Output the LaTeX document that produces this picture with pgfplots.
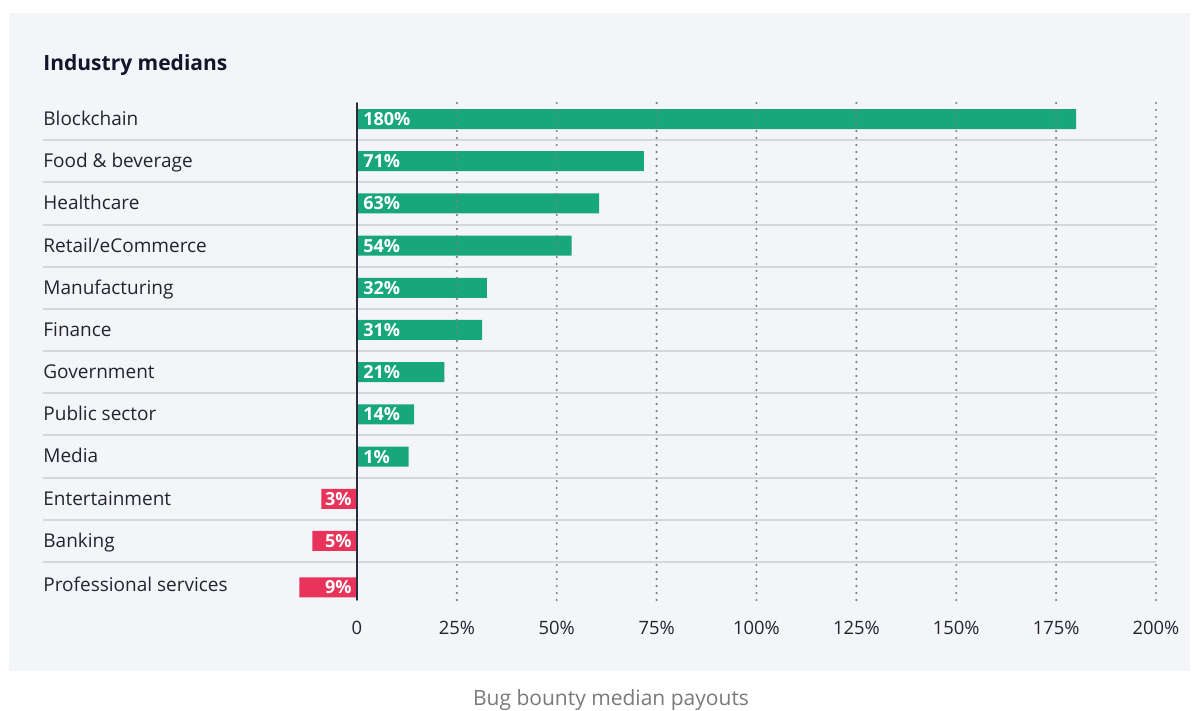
\documentclass[border=0pt]{standalone}
\usepackage{pgfplots}
\pgfplotsset{compat=1.18}
\usepackage{fontspec}
\setmainfont{Open Sans}
\definecolor{bg}{HTML}{F4F5F9}
\definecolor{barg}{HTML}{17A77A}
\definecolor{barr}{HTML}{E8335A}
\definecolor{sep}{HTML}{D6D7DD}
\definecolor{grd}{HTML}{7E7E88}
\definecolor{zero}{HTML}{2B2B40}
\definecolor{txt}{HTML}{24242E}
\definecolor{ttl}{HTML}{14142B}
\definecolor{cap}{HTML}{7A7A7A}
\begin{document}
\begin{tikzpicture}
\useasboundingbox (0,0) rectangle (602bp,-355.5bp);
\fill[white] (0,0) rectangle (602bp,-355.5bp);
\fill[bg] (4.5bp,-6.5bp) rectangle (595bp,-335.5bp);
\node[anchor=west, font=\fontsize{10.5bp}{12bp}\selectfont\bfseries, text=ttl, inner sep=0] at (21.5bp,-32.5bp) {Industry medians};
\node[font=\fontsize{10.5bp}{12bp}\selectfont, text=cap, inner sep=0] at (305.5bp,-350bp) {Bug bounty median payouts};
\begin{axis}[
  at={(21.5bp,-51.5bp)}, anchor=north west,
  width=556.5bp, height=248.5bp, scale only axis,
  xmin=-78.6, xmax=200, ymin=-0.38, ymax=11.4, y dir=reverse,
  axis line style={draw=none},
  axis on top,
  major tick length=0pt, minor tick length=0pt,
  xtick={25,50,75,100,125,150,175,200},
  xticklabels={25\%,50\%,75\%,100\%,125\%,150\%,175\%,200\%},
  extra x ticks={0}, extra x tick labels={0},
  extra x tick style={major grid style={solid, draw=zero, line width=0.8bp}},
  xmajorgrids,
  major grid style={grd, line width=1.2bp, line cap=round, dash pattern=on 0bp off 3.5bp},
  ytick={0,1,2,3,4,5,6,7,8,9,10,11.05},
  yticklabels={Blockchain,Food \& beverage,Healthcare,Retail/eCommerce,Manufacturing,Finance,Government,Public sector,Media,Entertainment,Banking,Professional services},
  minor ytick={0.5,1.5,2.5,3.5,4.5,5.5,6.5,7.5,8.5,9.5,10.5},
  yminorgrids,
  minor grid style={sep, line width=1bp, solid},
  xticklabel style={font=\fontsize{9.2bp}{11bp}\selectfont, text=txt, yshift=-7bp},
  yticklabel style={anchor=base west, inner xsep=0pt, yshift=-3.2bp, font=\fontsize{9.5bp}{11bp}\selectfont, text=txt},
]
\addplot[xbar, bar width=10bp, bar shift=0pt, fill=barg, draw=none] coordinates {
  (180,0) (71.8,1) (60.6,2) (53.7,3) (32.5,4) (31.3,5) (21.9,6) (14.3,7) (12.9,8)};
\addplot[xbar, bar width=10bp, bar shift=0pt, fill=barr, draw=none] coordinates {
  (-8.9,9) (-11.2,10) (-14.4,11.1)};
\addplot[draw=none, mark=none, nodes near coords, point meta=explicit symbolic,
  nodes near coords style={anchor=west, inner sep=0pt, xshift=3bp, text=white, font=\fontsize{9bp}{11bp}\selectfont\bfseries}]
  coordinates {(0,0) [180\%] (0,1) [71\%] (0,2) [63\%] (0,3) [54\%] (0,4) [32\%] (0,5) [31\%] (0,6) [21\%] (0,7) [14\%] (0,8) [1\%]};
\addplot[draw=none, mark=none, nodes near coords, point meta=explicit symbolic,
  nodes near coords style={anchor=east, inner sep=0pt, xshift=-2.5bp, text=white, font=\fontsize{9bp}{11bp}\selectfont\bfseries}]
  coordinates {(0,9) [3\%] (0,10) [5\%] (0,11.1) [9\%]};
\end{axis}
\end{tikzpicture}
\end{document}
